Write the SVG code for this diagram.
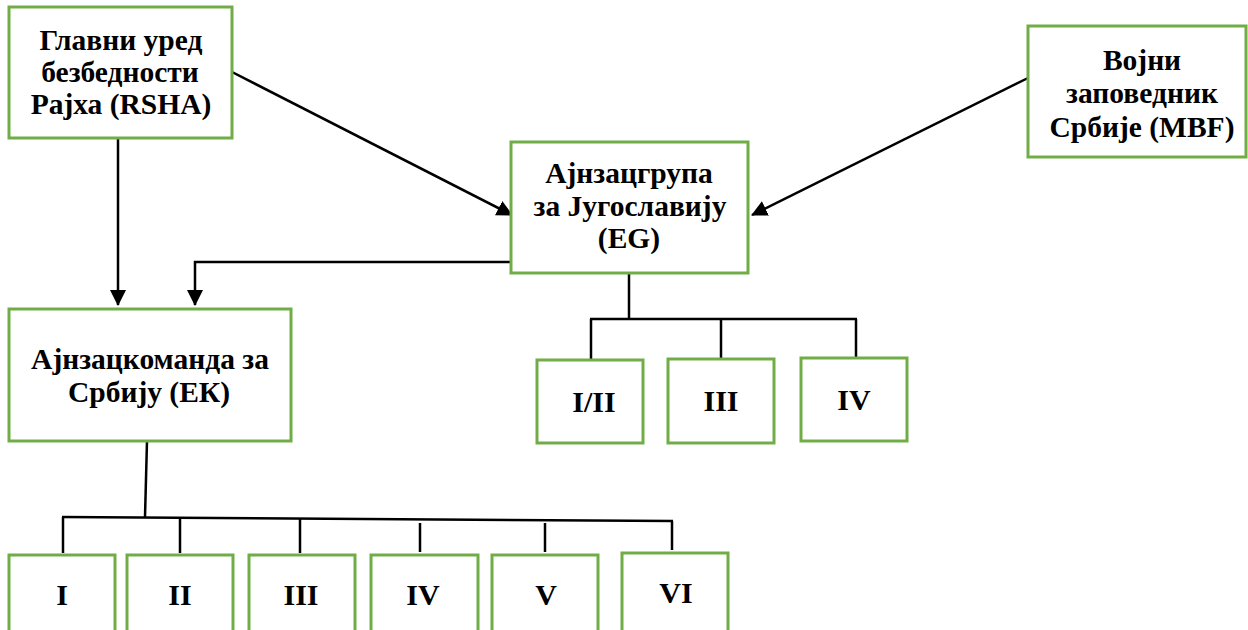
<svg xmlns="http://www.w3.org/2000/svg" width="1248" height="630" viewBox="0 0 1248 630">
<style>
.box{fill:#fff;stroke:#70AD47;stroke-width:3}
.t{font-family:"Liberation Serif","Times New Roman",serif;font-weight:bold;font-size:29.5px;fill:#000;text-anchor:middle}
.n{font-size:30px}
.c{fill:none;stroke:#000;stroke-width:2.5}
</style>
<defs>
<marker id="ah" markerWidth="16" markerHeight="16" refX="15" refY="8" orient="auto" markerUnits="userSpaceOnUse">
<path d="M0,0 L16,8 L0,16 Z" fill="#000"/>
</marker>
</defs>
<rect width="1248" height="630" fill="#fff"/>
<g id="connectors">
<line class="c" x1="118" y1="138" x2="118" y2="305" marker-end="url(#ah)"/>
<line class="c" x1="232" y1="72" x2="512" y2="215" marker-end="url(#ah)"/>
<line class="c" x1="1028" y1="78" x2="752" y2="215" marker-end="url(#ah)"/>
<polyline class="c" points="511,262 195,262 195,305" marker-end="url(#ah)"/>
<line class="c" x1="629" y1="273" x2="629" y2="319"/>
<line class="c" x1="590" y1="319" x2="857" y2="319"/>
<line class="c" x1="591" y1="319" x2="591" y2="362"/>
<line class="c" x1="721" y1="319" x2="721" y2="360"/>
<line class="c" x1="856" y1="319" x2="856" y2="358"/>
<line class="c" x1="147" y1="441" x2="145" y2="517"/>
<line class="c" x1="62" y1="517" x2="673" y2="521"/>
<line class="c" x1="63" y1="517" x2="63" y2="553"/>
<line class="c" x1="180" y1="518" x2="180" y2="553"/>
<line class="c" x1="300" y1="518" x2="300" y2="553"/>
<line class="c" x1="420" y1="523" x2="420" y2="552"/>
<line class="c" x1="545" y1="523" x2="545" y2="552"/>
<line class="c" x1="672" y1="521" x2="672" y2="550"/>
</g>
<g id="rsha">
<rect class="box" x="9" y="7" width="223" height="131"/>
<text class="t" x="121" y="50">Главни уред</text>
<text class="t" x="120" y="82">безбедности</text>
<text class="t" x="121" y="114">Рајха (RSHA)</text>
</g>
<g id="mbf">
<rect class="box" x="1028" y="26" width="218" height="131"/>
<text class="t" x="1142" y="70">Војни</text>
<text class="t" x="1142" y="103">заповедник</text>
<text class="t" x="1142" y="137">Србије (MBF)</text>
</g>
<g id="eg">
<rect class="box" x="511" y="142" width="237" height="131"/>
<text class="t" x="629" y="183">Ајнзацгрупа</text>
<text class="t" x="630" y="216">за Југославију</text>
<text class="t" x="629" y="248">(EG)</text>
</g>
<g id="ek">
<rect class="box" x="9" y="309" width="282" height="132"/>
<text class="t" x="150" y="369">Ајнзацкоманда за</text>
<text class="t" x="149" y="402">Србију (ЕК)</text>
</g>
<g id="eg1"><rect class="box" x="537" y="360" width="106" height="83"/><text class="t n" x="594" y="412">I/II</text></g>
<g id="eg3"><rect class="box" x="668" y="359" width="106" height="84"/><text class="t n" x="721" y="411">III</text></g>
<g id="eg4"><rect class="box" x="801" y="358" width="106" height="83"/><text class="t n" x="854" y="410">IV</text></g>
<g id="ek1"><rect class="box" x="9" y="555" width="106" height="90"/><text class="t n" x="62" y="605">I</text></g>
<g id="ek2"><rect class="box" x="127" y="555" width="106" height="90"/><text class="t n" x="180" y="605">II</text></g>
<g id="ek3"><rect class="box" x="249" y="555" width="106" height="90"/><text class="t n" x="301" y="605">III</text></g>
<g id="ek4"><rect class="box" x="371" y="555" width="107" height="90"/><text class="t n" x="423" y="605">IV</text></g>
<g id="ek5"><rect class="box" x="492" y="555" width="106" height="90"/><text class="t n" x="546" y="605">V</text></g>
<g id="ek6"><rect class="box" x="622" y="553" width="106" height="90"/><text class="t n" x="676" y="603">VI</text></g>
</svg>
